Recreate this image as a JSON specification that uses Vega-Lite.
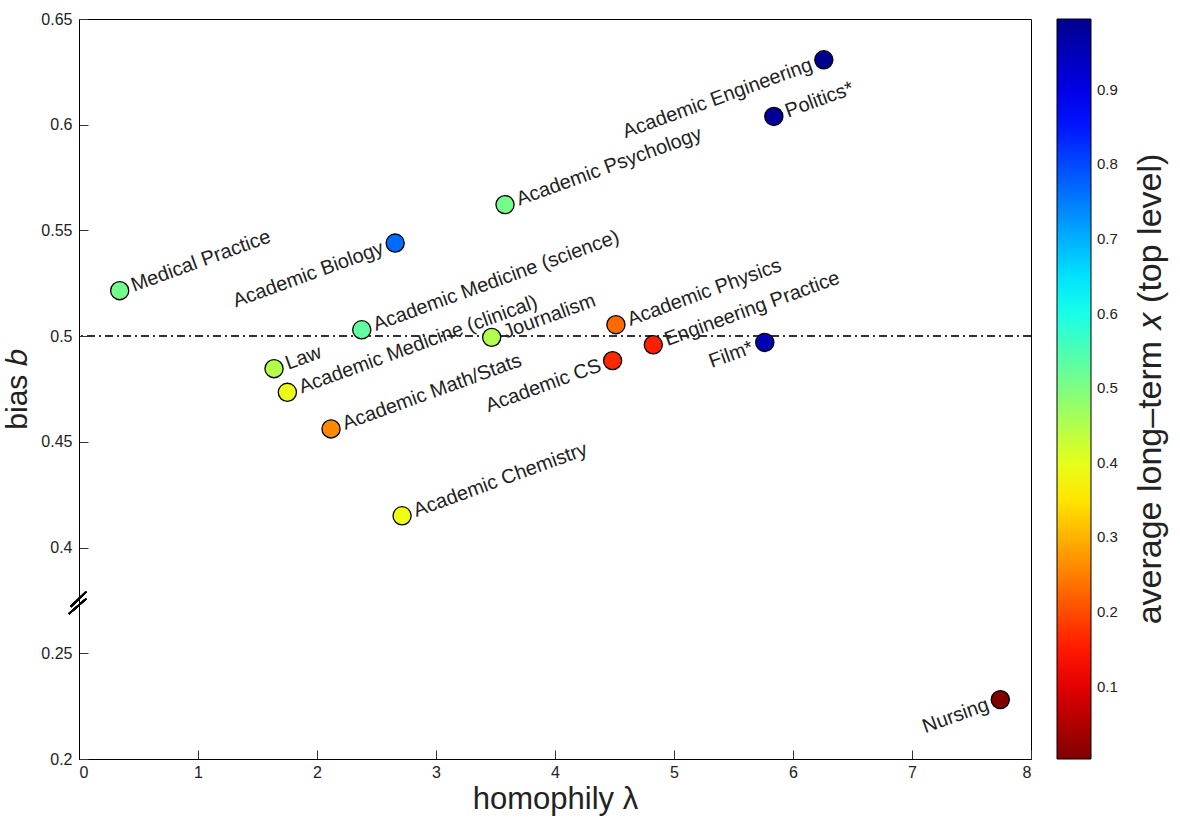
{
  "$schema": "https://vega.github.io/schema/vega-lite/v6.json",
  "width": 952,
  "height": 740,
  "autosize": {"type": "none"},
  "padding": {"left": 79, "top": 19, "right": 149, "bottom": 60},
  "background": "white",
  "config": {
    "font": "Liberation Sans",
    "view": {"stroke": "black", "strokeWidth": 1},
    "axis": {
      "grid": false,
      "domainColor": "black",
      "tickColor": "#333",
      "tickSize": -9,
      "labelFontSize": 16,
      "labelColor": "#222",
      "titleFontSize": 30,
      "titleFontWeight": "normal",
      "titleColor": "#222"
    },
    "legend": {
      "labelFontSize": 15,
      "labelColor": "#222",
      "titleFontSize": 34,
      "titleFontWeight": "normal",
      "titleColor": "#222"
    }
  },
  "data": {
    "values": [
      {"field": "Medical Practice", "lambda": 0.342, "b": 0.5215, "x": 0.51},
      {"field": "Academic Biology", "lambda": 2.657, "b": 0.544, "x": 0.766},
      {"field": "Academic Psychology", "lambda": 3.58, "b": 0.5622, "x": 0.51},
      {"field": "Academic Engineering", "lambda": 6.259, "b": 0.6307, "x": 0.995},
      {"field": "Politics*", "lambda": 5.839, "b": 0.6039, "x": 0.985},
      {"field": "Academic Medicine (science)", "lambda": 2.376, "b": 0.503, "x": 0.53},
      {"field": "Journalism", "lambda": 3.468, "b": 0.4994, "x": 0.45},
      {"field": "Law", "lambda": 1.639, "b": 0.4846, "x": 0.447},
      {"field": "Academic Medicine (clinical)", "lambda": 1.751, "b": 0.4734, "x": 0.395},
      {"field": "Academic Math/Stats", "lambda": 2.118, "b": 0.4561, "x": 0.26},
      {"field": "Academic Chemistry", "lambda": 2.715, "b": 0.415, "x": 0.39},
      {"field": "Academic Physics", "lambda": 4.512, "b": 0.5054, "x": 0.23},
      {"field": "Engineering Practice", "lambda": 4.826, "b": 0.4959, "x": 0.157},
      {"field": "Academic CS", "lambda": 4.484, "b": 0.4884, "x": 0.165},
      {"field": "Film*", "lambda": 5.763, "b": 0.497, "x": 0.955},
      {"field": "Nursing", "lambda": 7.742, "b": 0.228, "x": 0.003}
    ]
  },
  "layer": [
    {
      "mark": {"type": "rule", "color": "#333", "strokeWidth": 1, "strokeDash": [8, 4, 2, 4]},
      "encoding": {"y": {"datum": 0.5, "type": "quantitative"}}
    },
    {
      "mark": {"type": "rule", "color": "black", "strokeWidth": 1.5},
      "encoding": {
        "x": {"datum": -0.085, "type": "quantitative"},
        "x2": {"datum": 0.06},
        "y": {"datum": 0.3057, "type": "quantitative"},
        "y2": {"datum": 0.3271}
      }
    },
    {
      "mark": {"type": "rule", "color": "black", "strokeWidth": 1.5},
      "encoding": {
        "x": {"datum": -0.07, "type": "quantitative"},
        "x2": {"datum": 0.06},
        "y": {"datum": 0.3157, "type": "quantitative"},
        "y2": {"datum": 0.3371}
      }
    },
    {
      "mark": {"type": "circle", "size": 330, "stroke": "black", "strokeWidth": 1.3, "opacity": 1},
      "encoding": {
        "x": {
          "field": "lambda",
          "type": "quantitative",
          "scale": {"domain": [0, 8], "nice": false, "zero": false},
          "axis": {
            "values": [0, 1, 2, 3, 4, 5, 6, 7, 8],
            "format": "d",
            "labelPadding": 14,
            "title": "homophily λ",
            "titleFontSize": 31,
            "titlePadding": 4
          }
        },
        "y": {
          "field": "b",
          "type": "quantitative",
          "scale": {
            "domain": [0.2, 0.25, 0.4, 0.65],
            "range": [740, 634, 528.5, 0],
            "nice": false,
            "zero": false
          },
          "axis": {
            "values": [0.2, 0.25, 0.4, 0.45, 0.5, 0.55, 0.6, 0.65],
            "labelExpr": "datum.value == 0.5 ? '0.5' : datum.value == 0.6 ? '0.6' : datum.value == 0.4 ? '0.4' : datum.value == 0.2 ? '0.2' : format(datum.value, '.2f')",
            "labelPadding": 16,
            "title": "bias 𝑏",
            "titlePadding": 8
          }
        },
        "color": {
          "field": "x",
          "type": "quantitative",
          "scale": {
            "domain": [0.003, 0.127, 0.375, 0.623, 0.871, 0.995],
            "range": ["#800000", "#ff0000", "#ffff00", "#00ffff", "#0000ff", "#00008f"],
            "interpolate": "rgb"
          },
          "legend": {
            "type": "gradient",
            "direction": "vertical",
            "orient": "right",
            "offset": 26,
            "padding": 0,
            "gradientLength": 740,
            "gradientThickness": 34,
            "gradientStrokeColor": "black",
            "gradientStrokeWidth": 1,
            "values": [0.1, 0.2, 0.3, 0.4, 0.5, 0.6, 0.7, 0.8, 0.9],
            "format": ".1f",
            "labelOverlap": false,
            "labelOffset": 6,
            "title": "average long–term 𝑥 (top level)",
            "titleOrient": "right",
            "titleAnchor": "middle",
            "titleLimit": 1000,
            "titlePadding": 16,
            "encoding": {"title": {"angle": {"value": 270}, "baseline": {"value": "top"}}}
          }
        }
      }
    },
    {
      "transform": [{"filter": {"field": "field", "oneOf": ["Medical Practice", "Academic Psychology", "Politics*", "Academic Medicine (science)", "Journalism", "Law", "Academic Medicine (clinical)", "Academic Math/Stats", "Academic Chemistry", "Academic Physics", "Engineering Practice"]}}],
      "mark": {"type": "text", "angle": 340, "align": "left", "baseline": "middle", "dx": 13, "fontSize": 20, "color": "#222"},
      "encoding": {
        "x": {"field": "lambda", "type": "quantitative"},
        "y": {"field": "b", "type": "quantitative"},
        "text": {"field": "field"}
      }
    },
    {
      "transform": [{"filter": {"field": "field", "oneOf": ["Academic Engineering", "Academic Biology", "Academic CS", "Film*", "Nursing"]}}],
      "mark": {"type": "text", "angle": 340, "align": "right", "baseline": "middle", "dx": -13, "fontSize": 20, "color": "#222"},
      "encoding": {
        "x": {"field": "lambda", "type": "quantitative"},
        "y": {"field": "b", "type": "quantitative"},
        "text": {"field": "field"}
      }
    }
  ]
}
